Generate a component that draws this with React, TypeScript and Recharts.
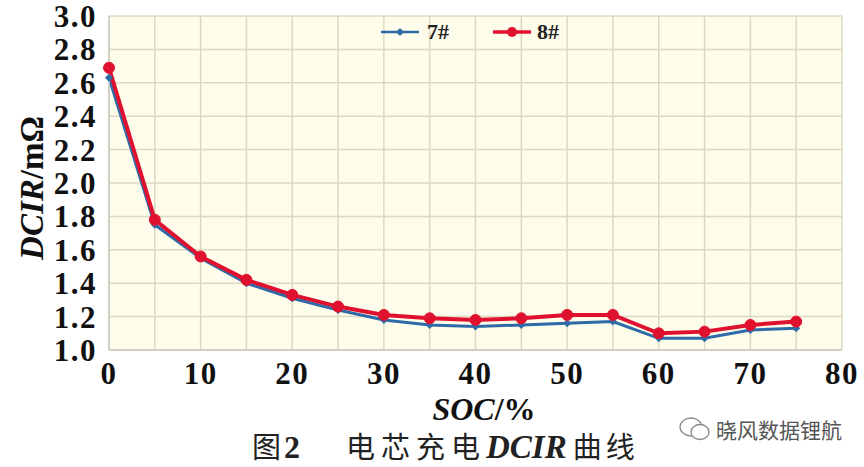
import { LineChart, Line, XAxis, YAxis, CartesianGrid, Label } from "recharts"

const soc = [0, 5, 10, 15, 20, 25, 30, 35, 40, 45, 50, 55, 60, 65, 70, 75]
const cell7 = [2.63, 1.75, 1.55, 1.4, 1.31, 1.24, 1.18, 1.15, 1.14, 1.15, 1.16, 1.17, 1.07, 1.07, 1.12, 1.13]
const cell8 = [2.69, 1.78, 1.56, 1.42, 1.33, 1.26, 1.21, 1.19, 1.18, 1.19, 1.21, 1.21, 1.1, 1.11, 1.15, 1.17]
const xTicks = [0, 5, 10, 15, 20, 25, 30, 35, 40, 45, 50, 55, 60, 65, 70, 75, 80]
const yTicks = [1.0, 1.2, 1.4, 1.6, 1.8, 2.0, 2.2, 2.4, 2.6, 2.8, 3.0]
const seriesNames = ["7#", "8#"]

const BLUE = "#2f6aa8"
const RED = "#e0112f"
const SERIF = "'Liberation Serif', 'Times New Roman', serif"
const CJK = "'Noto Sans CJK SC', sans-serif"

const data = soc.map((s, i) => ({ soc: s, c7: cell7[i], c8: cell8[i] }))

const Diamond = (props: any) => {
  const { cx, cy, index } = props
  const s = 4
  return (
    <polygon
      key={"d" + index}
      points={`${cx},${cy - s} ${cx + s},${cy} ${cx},${cy + s} ${cx - s},${cy}`}
      fill={BLUE}
    />
  )
}

const tickStyle = { fill: "#111", fontSize: 31, fontWeight: 700, fontFamily: SERIF, letterSpacing: 1.5 }

export default function App() {
  return (
    <div style={{ position: "absolute", left: 0, top: 0, width: 864, height: 467, background: "#fff", fontFamily: SERIF }}>
      <LineChart width={864} height={467} data={data} margin={{ top: 16, right: 22, left: 39, bottom: 77 }}>
        <CartesianGrid stroke="#dcd8c2" strokeWidth={1.5} fill="#fefcea" />
        <XAxis
          dataKey="soc"
          type="number"
          domain={[0, 80]}
          ticks={xTicks}
          interval={0}
          tickFormatter={(v: number) => (v % 10 === 0 ? String(v) : "")}
          height={40}
          tickLine={false}
          tickMargin={6}
          axisLine={{ stroke: "#c9c9c0", strokeWidth: 1.5 }}
          tick={tickStyle}
        >
          <Label
            content={() => (
              <text x={484} y={420} textAnchor="middle" fontSize={32} fontWeight={700} fontFamily={SERIF} fill="#111">
                <tspan fontStyle="italic">SOC</tspan>
                <tspan>/%</tspan>
              </text>
            )}
          />
        </XAxis>
        <YAxis
          type="number"
          domain={[1, 3]}
          ticks={yTicks}
          interval={0}
          width={70}
          tickFormatter={(v: number) => v.toFixed(1)}
          tickLine={false}
          tickMargin={6}
          axisLine={{ stroke: "#c9c9c0", strokeWidth: 1.5 }}
          tick={tickStyle}
        >
          <Label
            content={() => (
              <text
                x={0}
                y={0}
                transform="translate(43,188) rotate(-90)"
                textAnchor="middle"
                fontSize={33}
                fontWeight={700}
                fontFamily={SERIF}
                fill="#111"
              >
                <tspan fontStyle="italic">DCIR</tspan>
                <tspan>/mΩ</tspan>
              </text>
            )}
          />
        </YAxis>
        <Line
          dataKey="c7"
          name={seriesNames[0]}
          stroke={BLUE}
          strokeWidth={3}
          dot={Diamond}
          isAnimationActive={false}
        />
        <Line
          dataKey="c8"
          name={seriesNames[1]}
          stroke={RED}
          strokeWidth={4}
          dot={{ r: 5.5, fill: RED, stroke: RED, strokeWidth: 1 }}
          isAnimationActive={false}
        />
      </LineChart>

      {/* legend */}
      <div style={{ position: "absolute", left: 381, top: 19, display: "flex", alignItems: "center", fontSize: 22, fontWeight: 700, color: "#222" }}>
        <svg width={38} height={10} style={{ marginRight: 8 }}>
          <line x1={0} y1={5} x2={38} y2={5} stroke={BLUE} strokeWidth={2.5} />
          <polygon points="19,1 23,5 19,9 15,5" fill={BLUE} />
        </svg>
        <span style={{ marginRight: 44 }}>{seriesNames[0]}</span>
        <svg width={38} height={12} style={{ marginRight: 6 }}>
          <line x1={0} y1={6} x2={38} y2={6} stroke={RED} strokeWidth={3.5} />
          <circle cx={19} cy={6} r={5} fill={RED} />
        </svg>
        <span>{seriesNames[1]}</span>
      </div>

      {/* caption */}
      <div style={{ position: "absolute", left: 252, top: 424, display: "flex", alignItems: "baseline", fontSize: 29, color: "#222", whiteSpace: "nowrap", fontFamily: CJK }}>
        <span>图</span>
        <span style={{ fontFamily: SERIF, fontWeight: 700, fontSize: 32, marginLeft: 3, marginRight: 46 }}>2</span>
        <span style={{ letterSpacing: 6 }}>电芯充电</span>
        <span style={{ fontFamily: SERIF, fontWeight: 700, fontStyle: "italic", fontSize: 33, marginRight: 6 }}>DCIR</span>
        <span style={{ letterSpacing: 4 }}>曲线</span>
      </div>

      {/* watermark */}
      <div style={{ position: "absolute", left: 678, top: 414, display: "flex", alignItems: "center", color: "#555", fontSize: 21, fontFamily: CJK, whiteSpace: "nowrap" }}>
        <svg width={34} height={28} style={{ marginRight: 4 }}>
          <ellipse cx={13} cy={12} rx={11} ry={9} fill="none" stroke="#888" strokeWidth={1.3} />
          <ellipse cx={22} cy={17} rx={9} ry={7.5} fill="#fff" stroke="#888" strokeWidth={1.3} />
        </svg>
        <span>晓风数据锂航</span>
      </div>
    </div>
  )
}
